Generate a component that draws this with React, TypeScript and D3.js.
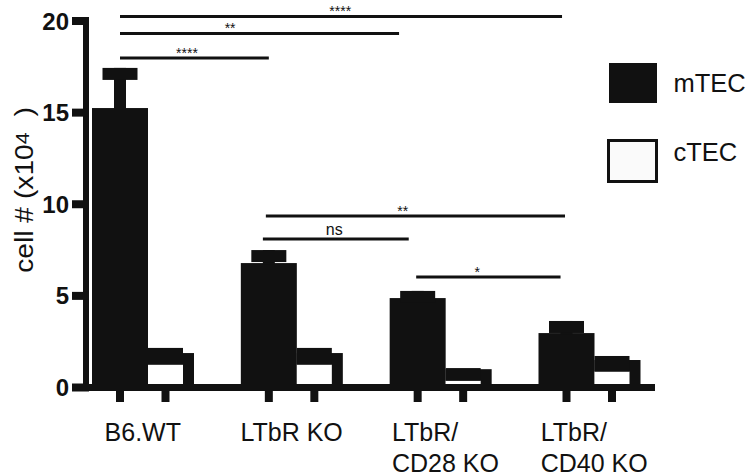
import React, { useEffect, useRef } from 'react';
import * as d3 from 'd3';

// groups on the x axis (multi-line labels are split on "\n")
const groups = ['B6.WT', 'LTbR KO', 'LTbR/\nCD28 KO', 'LTbR/\nCD40 KO'];
// cell # (x10^4), mean and mean + SEM
const mtecMean = [15.25, 6.79, 4.88, 2.97];
const mtecUpper = [17.44, 7.5, 5.27, 3.63];
const ctecMean = [1.88, 1.88, 1.0, 1.5];
const ctecUpper = [2.16, 2.16, 1.06, 1.72];
const yTicks = [0, 5, 10, 15, 20];
const legendItems = ['mTEC', 'cTEC'];

// significance brackets: from/to/labelAt in group index units, level in y units
const bracketFrom = [0, 0, 0, 0.98, 0.96, 1.99];
const bracketTo = [2.97, 1.875, 1.0, 2.99, 1.94, 2.96];
const bracketLevel = [20.25, 19.32, 17.98, 9.36, 8.1, 6.03];
const bracketLabel = ['****', '**', '****', '**', 'ns', '*'];
const bracketLabelAt = [1.48, 0.74, 0.45, 1.9, 1.44, 2.4];

const FONT = 'Arial, "Liberation Sans", Helvetica, sans-serif';
const INK = '#111';

const App = () => {
  const ref = useRef<SVGSVGElement>(null);

  useEffect(() => {
    const svg = d3.select(ref.current);
    svg.selectAll('*').remove();

    const y = d3.scaleLinear().domain([0, 20]).range([387.5, 21]);
    const x = d3.scaleLinear().domain([0, groups.length - 1]).range([120, 566.5]);
    const ctecOffset = 45.5;
    const base = y(0);

    // mTEC bars + error bars
    groups.forEach((g, i) => {
      const c = x(i);
      svg.append('rect')
        .attr('x', c - 28).attr('y', y(mtecMean[i]))
        .attr('width', 56).attr('height', base - y(mtecMean[i]))
        .attr('fill', INK);
      svg.append('rect')
        .attr('x', c - 6).attr('y', y(mtecUpper[i]))
        .attr('width', 12).attr('height', y(mtecMean[i]) - y(mtecUpper[i]) + 1)
        .attr('fill', INK);
      svg.append('rect')
        .attr('x', c - 17.5).attr('y', y(mtecUpper[i]))
        .attr('width', 35).attr('height', 12)
        .attr('fill', INK);

      // cTEC: open bar with heavy top/right border
      const cc = c + ctecOffset;
      const top = y(ctecMean[i]);
      svg.append('rect')
        .attr('x', cc - 17.5).attr('y', top)
        .attr('width', 46).attr('height', base - top)
        .attr('fill', INK);
      svg.append('rect')
        .attr('x', cc - 17.5).attr('y', top + 11.5)
        .attr('width', 35).attr('height', Math.max(0, base - top - 11.5))
        .attr('fill', '#fff');
      svg.append('rect')
        .attr('x', cc - 17.5).attr('y', y(ctecUpper[i]))
        .attr('width', 35).attr('height', top + 11.5 - y(ctecUpper[i]))
        .attr('fill', INK);

      // x ticks under each bar
      [c, cc].forEach((tx) => {
        svg.append('line')
          .attr('x1', tx).attr('x2', tx)
          .attr('y1', base).attr('y2', base + 14.5)
          .attr('stroke', INK).attr('stroke-width', 8);
      });
    });

    // axes
    svg.append('line')
      .attr('x1', 72).attr('x2', 655).attr('y1', base).attr('y2', base)
      .attr('stroke', INK).attr('stroke-width', 7);
    svg.append('line')
      .attr('x1', 86).attr('x2', 86).attr('y1', y(20) - 4).attr('y2', base + 3.5)
      .attr('stroke', INK).attr('stroke-width', 6);
    yTicks.forEach((t) => {
      svg.append('line')
        .attr('x1', 72).attr('x2', 89).attr('y1', y(t)).attr('y2', y(t))
        .attr('stroke', INK).attr('stroke-width', 8);
      svg.append('text')
        .attr('x', 69).attr('y', y(t) + 8.5)
        .attr('text-anchor', 'end')
        .style('font-family', FONT).style('font-size', '24px').style('font-weight', 'bold')
        .attr('fill', INK)
        .text(t);
    });

    // axis title (the original type is a little wider than Arial)
    const title = svg.append('text')
      .attr('transform', 'translate(33,190) rotate(-90) scale(1.13,1)')
      .attr('text-anchor', 'middle')
      .style('font-family', FONT).style('font-size', '25px')
      .attr('fill', INK);
    title.append('tspan').text('cell # (x10');
    title.append('tspan').attr('dy', -4).style('font-size', '19px').text('4');
    title.append('tspan').attr('dy', 4).text('\u00a0\u00a0)');

    // group labels: lines left-aligned, block centred under the pair of bars
    groups.forEach((g, i) => {
      const center = x(i) + ctecOffset / 2;
      const lines = g.split('\n');
      const t = svg.append('text')
        .style('font-family', FONT).style('font-size', '25px')
        .attr('fill', INK);
      lines.forEach((ln, j) => {
        t.append('tspan').attr('x', 0).attr('y', 441 + j * 31).text(ln);
      });
      const w = d3.max(t.selectAll('tspan').nodes(), (n: any) => n.getComputedTextLength()) || 0;
      const shift = lines.length > 1 ? 5 : 0;
      t.selectAll('tspan').attr('x', (d: any, j: number, nodes: any) => {
        const lw = nodes[j].getComputedTextLength();
        return lines.length > 1 ? center - w / 2 + shift : center - lw / 2;
      });
    });

    // significance brackets
    bracketLabel.forEach((lab, i) => {
      const ly = y(bracketLevel[i]);
      svg.append('line')
        .attr('x1', x(bracketFrom[i])).attr('x2', x(bracketTo[i]))
        .attr('y1', ly).attr('y2', ly)
        .attr('stroke', INK).attr('stroke-width', 3);
      const isNs = lab === 'ns';
      svg.append('text')
        .attr('x', x(bracketLabelAt[i])).attr('y', isNs ? ly - 4 : ly)
        .attr('text-anchor', 'middle')
        .style('font-family', FONT).style('font-size', isNs ? '16px' : '14px')
        .attr('fill', INK)
        .text(lab);
    });

    // legend
    legendItems.forEach((name, i) => {
      if (i === 0) {
        svg.append('rect')
          .attr('x', 609).attr('y', 63).attr('width', 48).attr('height', 40)
          .attr('fill', INK);
      } else {
        svg.append('rect')
          .attr('x', 608.5).attr('y', 140.5).attr('width', 48).attr('height', 41)
          .attr('fill', '#fafafa').attr('stroke', INK).attr('stroke-width', 3);
      }
      svg.append('text')
        .attr('x', 673.5).attr('y', i === 0 ? 92 : 161)
        .style('font-family', FONT).style('font-size', '25.5px')
        .attr('fill', INK)
        .text(name);
    });
  }, []);

  return (
    <svg
      ref={ref}
      width={750}
      height={476}
      style={{ position: 'absolute', left: 0, top: 0, background: '#fff' }}
    />
  );
};

export default App;
